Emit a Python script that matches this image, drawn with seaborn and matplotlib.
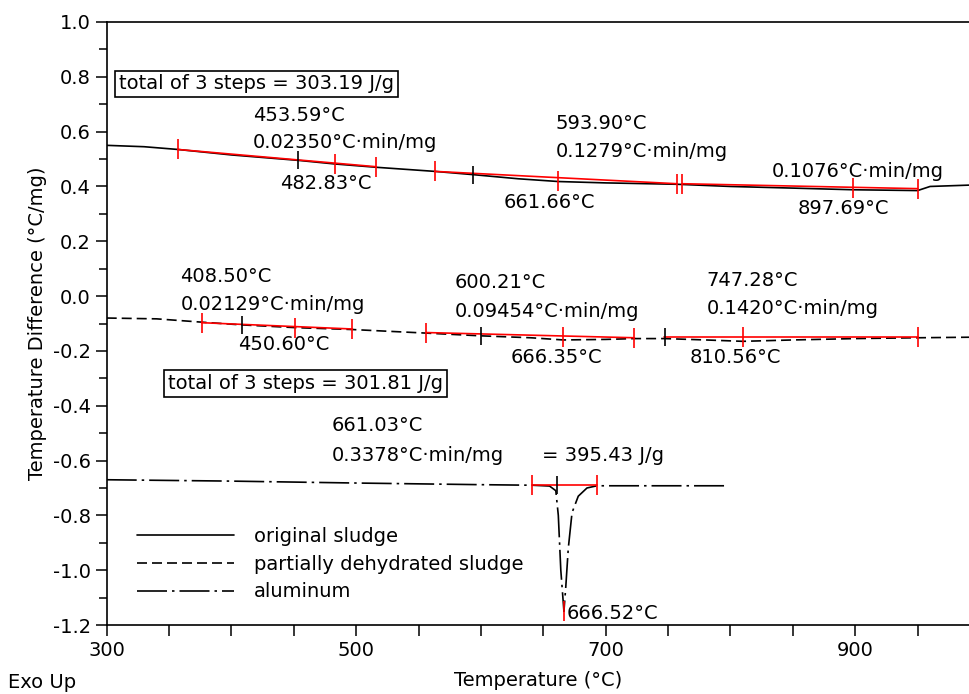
import numpy as np
import matplotlib
matplotlib.use("Agg")
import matplotlib.pyplot as plt
from matplotlib.ticker import MultipleLocator, FixedLocator
import seaborn as sns

# --- curves ---
orig_T = [300, 330, 357, 400, 454, 483, 516, 563, 594, 630, 662, 700, 757, 800, 850, 898, 950, 960, 992]
orig_v = [0.550, 0.545, 0.535, 0.515, 0.495, 0.482, 0.470, 0.455, 0.443, 0.428, 0.418, 0.413, 0.408, 0.400, 0.394, 0.388, 0.385, 0.400, 0.405]

dehyd_T = [300, 340, 376, 408, 451, 497, 556, 600, 640, 666, 700, 723, 747, 780, 810, 850, 900, 950, 992]
dehyd_v = [-0.080, -0.083, -0.095, -0.105, -0.115, -0.122, -0.135, -0.145, -0.152, -0.160, -0.158, -0.155, -0.155, -0.160, -0.165, -0.160, -0.155, -0.152, -0.150]

alu_T = [300, 400, 500, 600, 641, 655, 660, 662, 664, 666.5, 668, 670, 673, 678, 685, 693, 720, 795]
alu_v = [-0.670, -0.675, -0.682, -0.688, -0.690, -0.693, -0.71, -0.80, -1.00, -1.15, -1.06, -0.92, -0.79, -0.73, -0.70, -0.692, -0.692, -0.692]

# red integration baselines (start, end) per step
orig_base = [([357, 516], [0.535, 0.472]), ([563, 757], [0.455, 0.410]), ([761, 950], [0.410, 0.392])]
orig_red_ticks_T = [357, 483, 516, 563, 662, 757, 761, 898, 950]
orig_red_ticks_v = [0.535, 0.482, 0.472, 0.455, 0.420, 0.410, 0.410, 0.396, 0.392]
orig_onset_T = [453.59, 593.90]
orig_onset_v = [0.495, 0.443]

dehyd_base = [([376, 497], [-0.097, -0.120]), ([556, 723], [-0.133, -0.152]), ([747, 950], [-0.150, -0.150])]
dehyd_red_ticks_T = [376, 451, 497, 556, 666, 723, 810, 950]
dehyd_red_ticks_v = [-0.097, -0.115, -0.120, -0.133, -0.150, -0.152, -0.150, -0.150]
dehyd_onset_T = [408.50, 600.21, 747.28]
dehyd_onset_v = [-0.105, -0.145, -0.150]

alu_base = ([641, 693], [-0.690, -0.690])
alu_red_ticks_T = [641, 693, 666.52]
alu_red_ticks_v = [-0.690, -0.690, -1.15]
alu_onset_T = [661.03]
alu_onset_v = [-0.690]

# annotation texts: (label, x, y)
notes = [
    ("453.59°C", 417, 0.660), ("0.02350°C·min/mg", 417, 0.560), ("482.83°C", 439, 0.412),
    ("593.90°C", 660, 0.631), ("0.1279°C·min/mg", 660, 0.526), ("661.66°C", 618, 0.340),
    ("0.1076°C·min/mg", 833, 0.453), ("897.69°C", 854, 0.321),
    ("408.50°C", 359, 0.073), ("0.02129°C·min/mg", 359, -0.030), ("450.60°C", 405, -0.175),
    ("600.21°C", 579, 0.051), ("0.09454°C·min/mg", 579, -0.058), ("666.35°C", 624, -0.223),
    ("747.28°C", 781, 0.058), ("0.1420°C·min/mg", 781, -0.047), ("810.56°C", 767, -0.223),
    ("661.03°C", 480, -0.471), ("0.3378°C·min/mg", 480, -0.580), ("= 395.43 J/g", 649, -0.580),
    ("666.52°C", 669, -1.157),
]
boxes = [("total of 3 steps = 303.19 J/g", 310, 0.774), ("total of 3 steps = 301.81 J/g", 349, -0.318)]

sns.set_style("ticks")
plt.rcParams["font.family"] = ["DejaVu Sans"]
plt.rcParams["axes.unicode_minus"] = False
for k in ["text.color", "axes.labelcolor", "xtick.color", "ytick.color", "axes.edgecolor"]:
    plt.rcParams[k] = "black"
FS = 14

fig = plt.figure(figsize=(9.7, 6.94), dpi=100)
ax = fig.add_axes([0.110, 0.0994, 0.890, 0.8689])

sns.lineplot(x=orig_T, y=orig_v, ax=ax, color="black", lw=1.2, sort=False, label="original sludge")
sns.lineplot(x=dehyd_T, y=dehyd_v, ax=ax, color="black", lw=1.2, sort=False,
             linestyle=(0, (6, 3)), label="partially dehydrated sludge")
sns.lineplot(x=alu_T, y=alu_v, ax=ax, color="black", lw=1.2, sort=False,
             linestyle=(0, (18, 3, 1.5, 3)), label="aluminum")

for bx, by in orig_base + dehyd_base + [alu_base]:
    ax.plot(bx, by, color="red", lw=1.2)
ax.plot(orig_red_ticks_T + dehyd_red_ticks_T + alu_red_ticks_T,
        orig_red_ticks_v + dehyd_red_ticks_v + alu_red_ticks_v,
        ls="none", marker="|", ms=15, mew=1.2, color="red")
ax.plot(orig_onset_T + dehyd_onset_T + alu_onset_T,
        orig_onset_v + dehyd_onset_v + alu_onset_v,
        ls="none", marker="|", ms=13, mew=1.2, color="black")

for s, x, y in notes:
    ax.text(x, y, s, fontsize=FS, ha="left", va="center")
for s, x, y in boxes:
    ax.text(x, y, s, fontsize=FS, ha="left", va="center",
            bbox=dict(boxstyle="square,pad=0.2", fc="white", ec="black", lw=1.2))

ax.set_xlim(300, 992)
ax.set_ylim(-1.2, 1.0)
ax.xaxis.set_major_locator(FixedLocator([300, 500, 700, 900]))
ax.xaxis.set_minor_locator(MultipleLocator(50))
ax.yaxis.set_major_locator(MultipleLocator(0.2))
ax.yaxis.set_minor_locator(MultipleLocator(0.1))
ax.yaxis.set_major_formatter(plt.FormatStrFormatter("%.1f"))
ax.tick_params(axis="both", which="major", direction="out", length=8, width=1.1, labelsize=FS, color="black")
ax.tick_params(axis="y", which="minor", direction="out", length=6, width=1.1)
ax.tick_params(axis="x", which="minor", direction="out", length=8, width=1.1)
for side in ["left", "bottom", "top"]:
    ax.spines[side].set_linewidth(1.2)
    ax.spines[side].set_color("black")
ax.spines["right"].set_visible(False)

ax.set_xlabel("Temperature (°C)", fontsize=FS, labelpad=8)
ax.set_ylabel("Temperature Difference (°C/mg)", fontsize=FS, labelpad=4)
fig.text(0.008, 0.003, "Exo Up", fontsize=FS, ha="left", va="bottom")

leg = ax.legend(loc="lower left", bbox_to_anchor=(0.015, 0.01), frameon=False, fontsize=FS,
                handlelength=5.0, handletextpad=1.0, labelspacing=0.45)

fig.savefig("out.png", dpi=100)
